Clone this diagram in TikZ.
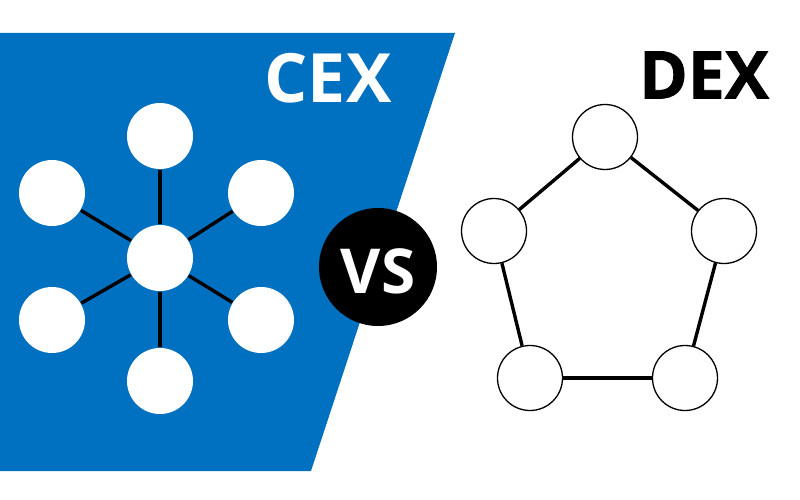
\documentclass[tikz,border=0pt]{standalone}
\usepackage{fontspec}
\setmainfont{Open Sans}
\newfontfamily\heavyfont[BoldFont={Open Sans Bold}, BoldFeatures={FakeBold=1.2}]{Open Sans}
\usetikzlibrary{positioning}
\definecolor{cblue}{HTML}{0070C0}
\tikzset{
  every picture/.style={line width=1.5pt},
  hub/.style={circle, fill=white, minimum size=66pt, inner sep=0pt},
  peer/.style={circle, draw=black, fill=white, line width=1.3pt, minimum size=65pt, inner sep=0pt},
  link/.style={draw=black, line width=3.4pt},
  title/.style={font=\fontsize{68}{68}\selectfont\bfseries, inner sep=0pt},
}
\begin{document}
\begin{tikzpicture}[x=1pt,y=-1pt]
  \useasboundingbox (0,0) rectangle (800,500);
  \fill[cblue] (0,33) -- (455,33) -- (311,471) -- (0,471) -- cycle;
  % centralised side
  \node[title, text=white] (cex) at (328,78) {CEX};
  \node[hub] (c0) at (160,258) {};
  \foreach \n/\x/\y in {1/160/136, 2/261/193, 3/261/320, 4/160/381, 5/52/320, 6/52/193} {
    \node[hub] (c\n) at (\x,\y) {};
    \draw[link] (c0) -- (c\n);
  }
  % versus badge
  \node[circle, fill=black, minimum size=118pt, inner sep=0pt, text=white, text height=54pt,
        font=\fontsize{62}{62}\selectfont\bfseries] (vs) at (378,267) {VS};
  % decentralised side
  \node[title, text=black, font=\heavyfont\fontsize{66}{66}\selectfont\bfseries] (dex) at (704,75) {DEX};
  \foreach \n/\x/\y in {1/605/137, 2/724/231, 3/685/378, 4/530/378, 5/494/231} {
    \node[peer] (d\n) at (\x,\y) {};
  }
  \foreach \a/\b in {1/2, 2/3, 3/4, 4/5, 5/1} {
    \draw[link] (d\a) -- (d\b);
  }
\end{tikzpicture}
\end{document}
